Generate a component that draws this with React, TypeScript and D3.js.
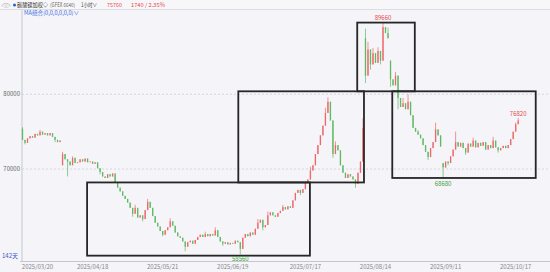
import React from 'react';
import * as d3 from 'd3';

const W = 550;
const H = 272;

// hourly closes, index = bar number
const closes = [
  73900, 73500, 74100, 74400, 74200, 74700, 74500, 75000, 74600, 74800,
  74500, 74800, 74300, 73900, 73600, 73800, 72000, 71300, 71000, 70500,
  71500, 70800, 70900, 71300, 71000, 71400, 70900, 71000, 70700, 70900,
  70100, 69600, 69000, 68800, 69300, 69000, 69400, 68200, 67500, 67000,
  66400, 66000, 65500, 64800, 64000, 64800, 63500, 63800, 63300, 64500,
  65600, 64800, 63700, 62800, 62300, 61700, 61200, 61800, 62200, 63000,
  62400, 61500, 61000, 60800, 60300, 59600, 60200, 60400, 60000, 60500,
  60900, 61200, 60900, 61300, 61000, 61300, 61100, 61800, 60900, 60300,
  60000, 60200, 59900, 60100, 60000, 60400, 60200, 59300, 60800, 61300,
  61000, 61500, 61200, 62000, 62800, 63200, 62200, 62500, 63800, 64200,
  63800, 63600, 64100, 64400, 64900, 64600, 65000, 64800, 65800, 66800,
  67200, 66800, 67300, 68200, 68600, 69800, 70500, 72000, 73200, 74500,
  75800, 77500, 79000, 76500, 72000, 73200, 72500, 70500, 69500, 68800,
  69300, 69000, 68600, 68000, 69500, 71000, 75500, 82500, 86000, 84000,
  85500, 84200, 85800, 84500, 89000, 88200, 87500, 82000, 81200, 82500,
  79500, 78300, 78800, 78000, 79000, 77200, 75500, 75000, 74600, 74100,
  73200, 72300, 71600, 72800, 73600, 75300, 74500, 73000, 70200, 71000,
  70800, 71700, 72600, 73600, 73000, 73500, 72800, 72200, 73400, 73000,
  73800, 72900, 73500, 73100, 73600, 72600, 73200, 72800, 73800, 72900,
  72500, 72800, 73100, 72800, 73200, 74000, 75000, 76000, 76500,
];

// bars whose open is not the previous close (gaps)
const gapOpens: [number, number][] = [
  [0, 75400], [16, 70500], [137, 87500], [147, 84500], [168, 70800],
];

// highs / lows that stick out beyond the body
const highWicks: [number, number][] = [
  [0, 75600], [7, 75200], [16, 72300], [20, 71700], [45, 65200], [50, 66000],
  [59, 63400], [73, 61600], [77, 62200], [94, 63300], [98, 64300], [104, 65200],
  [115, 70300], [121, 78200], [122, 79600], [123, 77500], [125, 73700],
  [136, 76800], [137, 88800], [138, 87000], [140, 86200], [142, 86300],
  [144, 89660], [146, 88900], [149, 83000], [152, 79500], [154, 80000],
  [158, 75200], [165, 76200], [173, 75000], [180, 74200], [188, 74300],
  [197, 76200], [198, 76820],
];
const lowWicks: [number, number][] = [
  [1, 73300], [13, 73600], [18, 69000], [31, 69300], [44, 63600], [48, 63000],
  [56, 61000], [65, 59000], [80, 59700], [87, 58560], [96, 61800], [111, 66500],
  [124, 71500], [133, 67500], [137, 81500], [139, 83300], [143, 84000],
  [147, 81000], [150, 78000], [162, 71200], [168, 68680], [170, 70500],
  [177, 71900], [190, 72200],
];

const yTicks = [70000, 80000];
const xLabelIdx = [6, 28, 56, 84, 113, 141, 169, 197];
const xLabelText = [
  '2025/03/20', '2025/04/18', '2025/05/21', '2025/06/19',
  '2025/07/17', '2025/08/14', '2025/09/11', '2025/10/17',
];

// marked extremes: [bar, price, isHigh]
const extremes: [number, number, boolean][] = [
  [144, 89660, true], [87, 58560, false], [168, 68680, false], [198, 76820, true],
];

// rectangles drawn on the chart: [fromBar, toBar, topPrice, bottomPrice]
const zones: [number, number, number, number][] = [
  [25.8, 114.8, 68200, 58400],
  [86.2, 136.4, 80400, 68200],
  [133.7, 156.7, 89600, 80400],
  [147.7, 205, 80400, 68800],
];

const UP = '#f06868';
const DOWN = '#5fba62';
const FONT = '"Noto Sans CJK SC", "Noto Sans", sans-serif';

export default function App() {
  const x = d3.scaleLinear().domain([0, closes.length - 1]).range([22.5, 518.2]);
  const y = d3.scaleLinear().domain([60000, 90000]).range([243.7, 19.6]);
  const step = x(1) - x(0);
  const gapMap = new Map(gapOpens);
  const hiMap = new Map(highWicks);
  const loMap = new Map(lowWicks);

  const candles = closes.map((c, i) => {
    const o = gapMap.has(i) ? (gapMap.get(i) as number) : closes[i - 1];
    const h = Math.max(o, c, hiMap.get(i) ?? -Infinity);
    const l = Math.min(o, c, loMap.get(i) ?? Infinity);
    return { i, o, c, h, l };
  });

  return (
    <div style={{ position: 'fixed', left: 0, top: 0 }}>
      <svg width={W} height={H} style={{ display: 'block', fontFamily: FONT }}>
        <rect x={0} y={0} width={W} height={H} fill="#f4f4f9" />
        {/* header */}
        <rect x={0} y={0} width={W} height={9} fill="#f7f7f9" />
        <line x1={0} x2={W} y1={9.5} y2={9.5} stroke="#dcdce2" strokeWidth={1} />
        <text x={1} y={7} fontSize={5.5} fill="#666" textLength={10} lengthAdjust="spacingAndGlyphs">◁▷</text>
        <circle cx={14.5} cy={5} r={1.5} fill="#2a5bd7" />
        <text x={17} y={7} fontSize={5.5} fill="#333" textLength={31} lengthAdjust="spacingAndGlyphs">碳酸锂加权◇</text>
        <text x={50} y={7} fontSize={5.5} fill="#666" textLength={25} lengthAdjust="spacingAndGlyphs">(GFEX 6640)</text>
        <text x={81} y={7} fontSize={5.5} fill="#444" textLength={16} lengthAdjust="spacingAndGlyphs">1小时∨</text>
        <text x={107} y={7} fontSize={5.5} fill="#e84848" textLength={15} lengthAdjust="spacingAndGlyphs">75760</text>
        <text x={131} y={7} fontSize={5.5} fill="#e84848" textLength={34} lengthAdjust="spacingAndGlyphs">1740 / 2.35%</text>
        <text x={24} y={14.5} fontSize={5.5} fill="#3b6fe0" textLength={55} lengthAdjust="spacingAndGlyphs">MA组合(0,0,0,0,0,0)∨</text>

        {/* grid */}
        {yTicks.map((t) => (
          <g key={t}>
            <line x1={22} x2={W} y1={y(t)} y2={y(t)} stroke="#cfcfd8" strokeDasharray="2,2" strokeWidth={0.8} />
            <text x={20} y={y(t) + 2} fontSize={6} fill="#666" textAnchor="end">{t}</text>
          </g>
        ))}

        {/* axes */}
        <line x1={22} x2={22} y1={10} y2={261} stroke="#c6c6cf" strokeWidth={1} />
        <line x1={20} x2={W} y1={261.5} y2={261.5} stroke="#c6c6cf" strokeWidth={1} />
        {xLabelIdx.map((idx, k) => (
          <text key={k} x={x(idx)} y={269} fontSize={6} fill="#888" textAnchor="middle">{xLabelText[k]}</text>
        ))}
        <text x={2} y={258} fontSize={6} fill="#3b56c8">142天</text>

        {/* candles */}
        {candles.map((d) => {
          const col = d.c >= d.o ? UP : DOWN;
          const top = y(Math.max(d.o, d.c));
          const bot = y(Math.min(d.o, d.c));
          return (
            <g key={d.i}>
              <line x1={x(d.i)} x2={x(d.i)} y1={y(d.h)} y2={y(d.l)} stroke={col} strokeWidth={0.7} />
              <rect x={x(d.i) - step * 0.26} y={top} width={step * 0.52} height={Math.max(0.8, bot - top)} fill={col} />
            </g>
          );
        })}

        {/* zones */}
        {zones.map((z, k) => (
          <rect key={k} x={x(z[0])} y={y(z[2])} width={x(z[1]) - x(z[0])} height={y(z[3]) - y(z[2])}
            fill="none" stroke="#262626" strokeWidth={1.8} />
        ))}

        {/* extreme labels */}
        {extremes.map(([i, p, hi], k) => (
          <text key={k} x={x(i)} y={hi ? y(p) - 2.5 : y(p) + 7} fontSize={6} textAnchor="middle"
            fill={hi ? '#e84848' : '#3aa43a'}>{p}</text>
        ))}
      </svg>
    </div>
  );
}
